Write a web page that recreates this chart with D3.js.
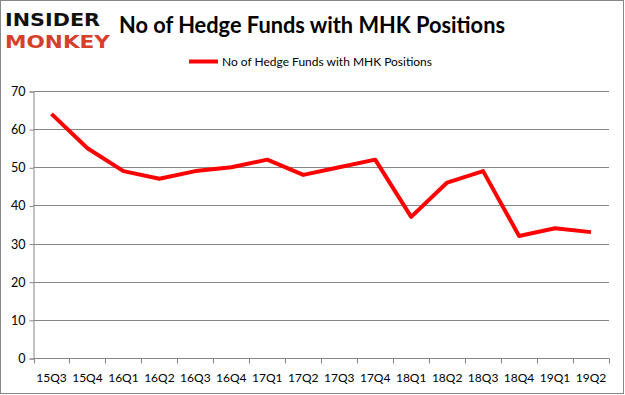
<!DOCTYPE html>
<html>
<head>
<meta charset="utf-8">
<script src="https://cdnjs.cloudflare.com/ajax/libs/d3/7.8.5/d3.min.js"></script>
<style>
  body { margin: 0; background: #fff; }
  svg { display: block; }
</style>
</head>
<body>
<svg class="chart"></svg>
<script>
var width = 625,
    height = 395;

var quarters = ["15Q3", "15Q4", "16Q1", "16Q2", "16Q3", "16Q4", "17Q1", "17Q2",
                "17Q3", "17Q4", "18Q1", "18Q2", "18Q3", "18Q4", "19Q1", "19Q2"];
var funds = [64, 55, 49, 47, 49, 50, 52, 48, 50, 52, 37, 46, 49, 32, 34, 33];
var yTicks = [0, 10, 20, 30, 40, 50, 60, 70];
var seriesName = "No of Hedge Funds with MHK Positions";
var title = "No of Hedge Funds with MHK Positions";

var margin = {left: 33.5, right: 16, top: 91, bottom: 37};

var chart = d3.select(".chart")
    .attr("width", width)
    .attr("height", height);

// outer frame
chart.append("rect")
    .attr("x", 0.5).attr("y", 0.5)
    .attr("width", width - 2).attr("height", height - 2)
    .attr("fill", "#fff")
    .attr("stroke", "#888");

var x = d3.scaleBand()
    .domain(quarters)
    .range([margin.left, width - margin.right]);

var y = d3.scaleLinear()
    .domain([0, 70])
    .range([height - margin.bottom, margin.top]);

// gridlines
chart.append("g").selectAll("line")
    .data(yTicks.filter(function(d) { return d > 0; }))
  .enter().append("line")
    .attr("x1", margin.left)
    .attr("x2", width - margin.right)
    .attr("y1", function(d) { return Math.round(y(d)) + 0.5; })
    .attr("y2", function(d) { return Math.round(y(d)) + 0.5; })
    .attr("stroke", "#868686");

// y axis
var yAxis = chart.append("g")
    .attr("transform", "translate(" + margin.left + ",0.5)")
    .call(d3.axisLeft(y).tickValues(yTicks).tickSize(4).tickPadding(4));
yAxis.select(".domain").attr("stroke", "#868686");
yAxis.selectAll(".tick line").attr("stroke", "#868686");
yAxis.selectAll("text")
    .attr("font-family", "Lato, 'Open Sans', sans-serif")
    .attr("font-size", 12.5)
    .attr("fill", "#000");

// x axis with ticks between categories
var xAxis = chart.append("g")
    .attr("transform", "translate(0," + (Math.round(y(0)) + 0.5) + ")");
xAxis.append("line")
    .attr("x1", margin.left).attr("x2", width - margin.right)
    .attr("stroke", "#868686");
xAxis.selectAll(".tk")
    .data(quarters.concat(["end"]))
  .enter().append("line")
    .attr("class", "tk")
    .attr("x1", function(d, i) { return Math.round(margin.left + i * x.step()) + 0.5; })
    .attr("x2", function(d, i) { return Math.round(margin.left + i * x.step()) + 0.5; })
    .attr("y1", 0).attr("y2", 5)
    .attr("stroke", "#868686");
xAxis.selectAll("text")
    .data(quarters)
  .enter().append("text")
    .attr("x", function(d) { return x(d) + x.bandwidth() / 2; })
    .attr("y", 23)
    .attr("text-anchor", "middle")
    .attr("font-family", "Lato, 'Open Sans', sans-serif")
    .attr("font-size", 12)
    .text(function(d) { return d; });

// line
var line = d3.line()
    .x(function(d, i) { return x(quarters[i]) + x.bandwidth() / 2; })
    .y(function(d) { return y(d); });

chart.append("path")
    .datum(funds)
    .attr("d", line)
    .attr("fill", "none")
    .attr("stroke", "#ff0000")
    .attr("stroke-width", 4)
    .attr("stroke-linejoin", "round");

// title
chart.append("text")
    .attr("x", 119).attr("y", 33)
    .attr("font-family", "Lato, 'Open Sans', sans-serif")
    .attr("font-weight", "bold")
    .attr("font-size", 22)
    .attr("textLength", 386)
    .attr("lengthAdjust", "spacingAndGlyphs")
    .text(title);

// legend
chart.append("line")
    .attr("x1", 189).attr("x2", 218)
    .attr("y1", 61.5).attr("y2", 61.5)
    .attr("stroke", "#ff0000")
    .attr("stroke-width", 4);
chart.append("text")
    .attr("x", 222).attr("y", 65.5)
    .attr("font-family", "Lato, 'Open Sans', sans-serif")
    .attr("font-size", 12)
    .attr("textLength", 210)
    .attr("lengthAdjust", "spacingAndGlyphs")
    .text(seriesName);

// logo
chart.append("text")
    .attr("x", 5).attr("y", 26)
    .attr("font-family", "'DejaVu Sans', sans-serif")
    .attr("font-weight", "bold")
    .attr("font-size", 18)
    .attr("textLength", 95)
    .attr("lengthAdjust", "spacingAndGlyphs")
    .attr("fill", "#111")
    .text("INSIDER");
chart.append("text")
    .attr("x", 5).attr("y", 48)
    .attr("font-family", "'DejaVu Sans', sans-serif")
    .attr("font-weight", "bold")
    .attr("font-size", 18)
    .attr("textLength", 105)
    .attr("lengthAdjust", "spacingAndGlyphs")
    .attr("fill", "#d6402b")
    .text("MONKEY");
</script>
</body>
</html>
